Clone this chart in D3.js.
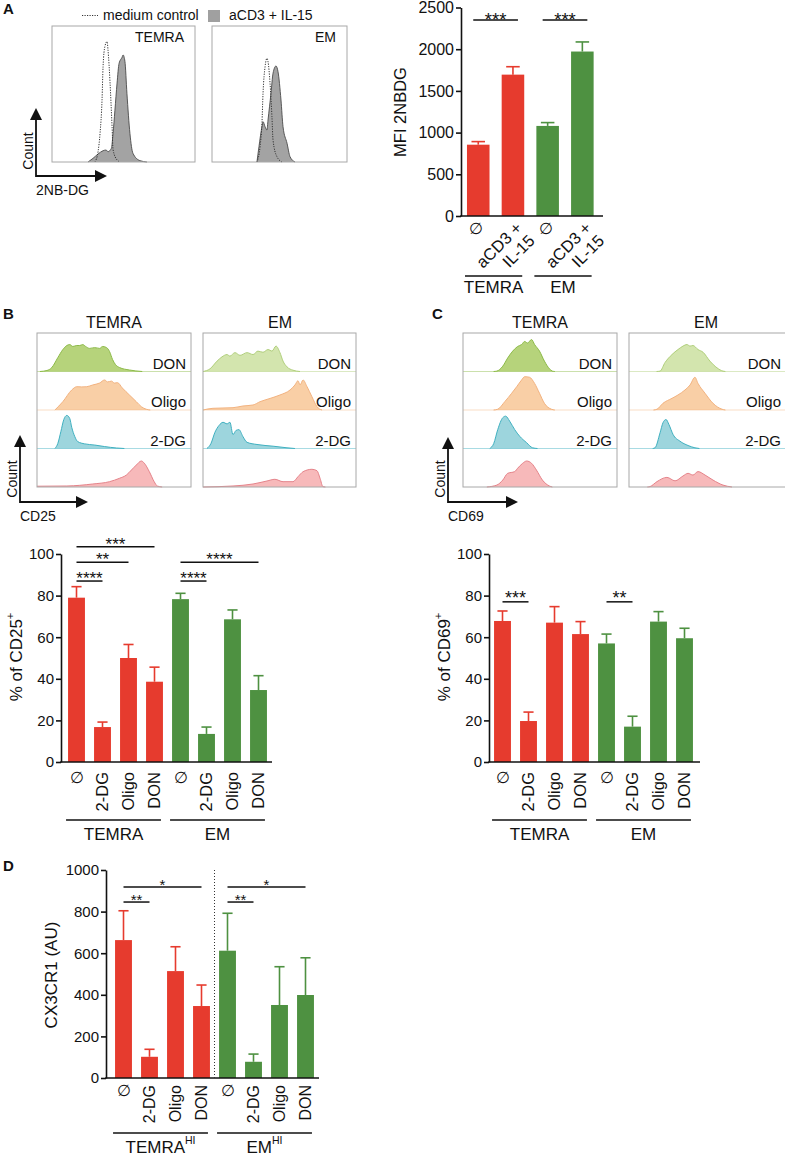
<!DOCTYPE html>
<html><head><meta charset="utf-8">
<script src="https://cdn.jsdelivr.net/npm/d3@7"></script>
<style>body{margin:0;background:#fff} svg{display:block}</style>
</head><body>
<svg id="fig" width="785" height="1158"></svg>
<script>
// ================= DATA =================
// Panel A – histograms (channel 0-100, relative count 0-100)
const aTemraCtrl = [[30,0],[32.2,7.6],[33.6,21],[35,46],[35.7,70],[37,85],[38.5,88.5],[39.2,82],[40.6,58],[42,26],[42.7,9],[45.5,1.5],[47.6,0]];
const aTemraStim = [[25.2,0],[28.7,2.7],[32.2,5.9],[35.7,8.3],[37.8,8.8],[39.2,7.6],[41.5,10],[42.7,21],[44,38],[45.5,58],[46.9,72.5],[49,77],[49.7,78.7],[51,74],[52.4,50.5],[54.5,21],[56.6,6.4],[61.5,1],[66.4,0]];
const aEmCtrl = [[33.3,0],[35.6,11.3],[37,28.4],[37.8,50.5],[39.3,70],[40.7,76.2],[41.5,73.8],[43,57.9],[44.4,33.3],[45.2,16.2],[48.1,3.9],[51.9,0]];
const aEmStim = [[33.3,0],[34.8,11.3],[37,26],[37.8,29.6],[39.3,26],[40.7,23.5],[41.5,30.9],[43.7,50.5],[45.2,65.2],[47.4,70.6],[48.9,66.4],[51.1,45.6],[52.6,26],[55.6,13.7],[57.8,3.9],[61.5,0]];
const aLegend = ["medium control", "aCD3 + IL-15"];

// Panel A – bars
const aLabels = ["∅", "aCD3 +|IL-15", "∅", "aCD3 +|IL-15"];
const aGroupOf = [0, 0, 1, 1];
const aMean = [855, 1695, 1080, 1972];
const aSem = [37, 95, 40, 115];
const aTicks = [0, 500, 1000, 1500, 2000, 2500];
const aSig = [{a:0, b:1, at:2350, label:"***"}, {a:2, b:3, at:2350, label:"***"}];

// Panels B/C – histogram rows
const rowNames = ["DON", "Oligo", "2-DG", ""];
const bTemraDON = [[1.9,0],[6.5,2.6],[9.7,10.4],[13.6,36],[16.9,57],[19.5,67.5],[21.4,70],[23.4,65],[26,67.5],[27.9,67.5],[29.9,70],[31.8,65],[34.4,60],[37.7,62],[40.9,60],[42.9,65],[45.5,62],[47.4,52],[49.4,31],[51.3,18],[53.9,10.4],[60.4,3.9],[68.8,0]];
const bTemraOligo = [[11.7,0],[16.9,21.6],[22.7,52],[26,60.5],[29.2,60],[32.5,60.5],[36.4,65],[40.9,70],[44.2,78],[46.1,73],[48.7,75],[50.6,70],[52.6,71],[55.8,57],[60.4,39],[64.9,21.6],[68.2,8.6],[71.4,2],[74,0]];
const bTemra2DG = [[11.7,0],[13.6,13],[15.6,44],[17.5,75],[19.5,86],[21.4,78],[22.7,55],[24.7,31],[26.6,18],[31.2,12],[37.7,9],[44.2,5],[51.9,1.3],[57.1,0]];
const bTemraCtrl = [[0,2],[19.5,2.6],[36.4,7.8],[47.4,13.8],[53.9,22.6],[58.4,31],[61.7,44],[64.9,57],[68.2,67.5],[70.1,62],[73.4,40],[76.6,13.8],[78.6,2.6],[81.8,0]];
const bEmDON = [[0,0],[4.6,7],[9.2,27],[12.4,38],[15.7,44],[17.6,40],[20.9,49],[24.2,42],[28.8,49],[32.7,44],[35.9,53],[39.2,50],[42.5,57],[45.1,53],[47.7,66],[50.3,49],[52.3,27],[54.9,12],[58.8,3.4],[63.4,0]];
const bEmOligo = [[0,0],[6.5,4.4],[19.6,6],[26.1,10.4],[32.7,13],[37.3,21.6],[43.8,30],[50.3,39],[56.9,52],[60.1,65],[62.1,76],[63.4,65],[65.4,78],[68,60.5],[71.2,34.5],[74.5,8.6],[77.8,0]];
const bEm2DG = [[2.6,0],[5.2,13],[7.8,42],[10.5,60],[13.1,68],[15.7,64],[17.6,68],[19.6,36],[21.6,47],[23.5,49],[26.1,31],[28.8,16],[35.3,10.4],[45.8,6],[54.9,1.8],[60.1,0]];
const bEmCtrl = [[0,0],[19.6,2.6],[32.7,7.8],[41.8,15.6],[47,20],[52.3,13.8],[58.8,13.8],[62.1,26.8],[65.4,39.7],[71.2,46],[74.5,42.3],[76.5,22.6],[78.4,0.8],[80,0]];
const cTemraDON = [[20,0],[22.1,1],[26,13.8],[29.2,35],[32.5,53],[35.7,65],[38.3,70],[40.3,78],[42.2,74],[44.8,83],[46.8,70],[50,53],[53.2,27],[56.5,7],[58.4,1],[60,0]];
const cTemraOligo = [[20,0],[22.7,2],[27.3,21.6],[31.8,43.4],[35.1,60.5],[38.3,78],[40.3,86.5],[43.5,85],[46.8,69],[50,43.4],[53.2,17.4],[57.8,2],[60,0]];
const cTemra2DG = [[17.5,0],[20.1,13],[22.7,49],[26,80],[27.9,84],[30.5,71],[33.8,49],[37,32],[41.6,15],[45.5,1.8],[48.7,0]];
const cTemraCtrl = [[15.6,0],[22.1,5],[26,18],[29.2,35.5],[33.8,40],[35.7,48.6],[39,61.6],[41.6,67.5],[44.8,61.6],[48,44],[51.9,18],[56.5,2.6],[58.4,0]];
const cEmDON = [[18,0],[20.3,1],[23.5,23],[28.1,44],[32,57],[35.3,66],[37.9,70],[39.9,66],[41.8,67.5],[45.1,57],[48.4,50],[52.9,27],[57.5,9.6],[61.4,1],[63,0]];
const cEmOligo = [[16,0],[18.3,2],[22.2,17.4],[28.1,30.3],[32,39],[36.6,52],[39.9,65],[43.1,85],[45.1,69],[49.7,43.4],[54.9,17.4],[60.8,2],[63,0]];
const cEm2DG = [[15.5,0],[17,1.8],[20.3,40.8],[22.2,66.8],[24.2,75.3],[26.1,62.3],[28.8,36.4],[33.3,19],[38.6,7.8],[43.1,1.8],[46,0]];
const cEmCtrl = [[12,0],[13.7,1],[18.3,14],[24.8,25],[30.1,16],[35.3,28.6],[38.6,35.5],[41.8,31],[45.1,40],[49.7,31],[54.9,18],[61.4,5],[67.3,0]];

// Panels B/C/D – bars
const treatments = ["∅", "2-DG", "Oligo", "DON"];
const subsets = ["TEMRA", "EM"];
const pctTicks = [0, 20, 40, 60, 80, 100];
const bTemraMean = [79, 16.8, 50, 38.6];
const bTemraSem = [5.3, 2.4, 6.5, 7];
const bEmMean = [78.3, 13.5, 68.6, 34.6];
const bEmSem = [2.8, 3.3, 4.5, 6.9];
const bSig = [{a:0,b:3,at:103.5,label:"***"},{a:0,b:2,at:96,label:"**"},{a:0,b:1,at:87,label:"****"},{a:4,b:7,at:96,label:"****"},{a:4,b:5,at:87,label:"****"}];
const cTemraMean = [67.8, 19.7, 67, 61.5];
const cTemraSem = [4.8, 4.3, 7.7, 6];
const cEmMean = [57, 17, 67.5, 59.5];
const cEmSem = [4.5, 5, 4.8, 4.8];
const cSig = [{a:0,b:1,at:77,label:"***"},{a:4,b:5,at:77,label:"**"}];
const dTicks = [0, 200, 400, 600, 800, 1000];
const dTemraMean = [663, 102, 514, 346];
const dTemraSem = [141, 36, 117, 101];
const dEmMean = [612, 78, 351, 399];
const dEmSem = [180, 37, 184, 179];
const dSig = [{a:0,b:3,at:918,label:"*"},{a:0,b:1,at:846,label:"**"},{a:4,b:7,at:918,label:"*"},{a:4,b:5,at:846,label:"**"}];

// ================= DRAWING =================
const F = "'Liberation Sans', Arial, Helvetica, sans-serif";
const RED = "#e63b2e", GREEN = "#4e9141", INK = "#111";
const svg = d3.select("#fig");

function label(x, y, s, o = {}) {
  const t = svg.append("text").attr("x", x).attr("y", y).text(s)
    .attr("font-family", F).attr("font-size", o.size || 15)
    .attr("text-anchor", o.anchor || "start").attr("fill", INK);
  if (o.bold) t.attr("font-weight", "bold");
  if (o.rotate) t.attr("transform", `rotate(${o.rotate},${x},${y})`);
  return t;
}

// Panel letters
label(3, 14, "A", {size: 15, bold: true});
label(3, 319, "B", {size: 15, bold: true});
label(432, 319, "C", {size: 15, bold: true});
label(3, 871, "D", {size: 15, bold: true});

// ---- Panel A histograms
svg.append("line").attr("x1", 82).attr("x2", 98).attr("y1", 15.5).attr("y2", 15.5)
  .attr("stroke", "#333").attr("stroke-width", 1).attr("stroke-dasharray", "1.2,1.3");
label(103, 20, aLegend[0], {size: 14});
svg.append("rect").attr("x", 208).attr("y", 10).attr("width", 12).attr("height", 12).attr("fill", "#a0a0a0");
label(229, 20, aLegend[1], {size: 14});

function overlayHist(x0, w, ctrl, stim, name) {
  const top = 26, base = 162;
  const xs = d3.scaleLinear().domain([0, 100]).range([x0, x0 + w]);
  const ys = d3.scaleLinear().domain([0, 100]).range([base, top]);
  const area = d3.area().x(d => xs(d[0])).y0(base).y1(d => ys(d[1])).curve(d3.curveMonotoneX);
  const line = d3.line().x(d => xs(d[0])).y(d => ys(d[1])).curve(d3.curveMonotoneX);
  svg.append("path").datum(stim).attr("d", area).attr("fill", "#a3a3a3");
  svg.append("path").datum(stim).attr("d", line).attr("fill", "none").attr("stroke", "#4a4a4a").attr("stroke-width", 0.9);
  svg.append("path").datum(ctrl).attr("d", line).attr("fill", "none").attr("stroke", "#333")
    .attr("stroke-width", 1).attr("stroke-dasharray", "1.2,1.3");
  svg.append("rect").attr("x", x0).attr("y", top).attr("width", w).attr("height", base - top)
    .attr("fill", "none").attr("stroke", "#a8a8a8").attr("stroke-width", 1);
  label(x0 + w - 11, 42, name, {size: 14, anchor: "end"});
}
overlayHist(52, 143, aTemraCtrl, aTemraStim, subsets[0]);
overlayHist(212, 135, aEmCtrl, aEmStim, subsets[1]);

function countArrow(x, yTop, yCorner, xRight, xName, countX, countY) {
  svg.append("path").attr("d", `M${x},${yTop + 10}V${yCorner}H${xRight - 10}`)
    .attr("fill", "none").attr("stroke", INK).attr("stroke-width", 1.8);
  svg.append("path").attr("d", `M${x},${yTop}L${x - 6},${yTop + 12}L${x + 6},${yTop + 12}Z`).attr("fill", INK);
  svg.append("path").attr("d", `M${xRight},${yCorner}L${xRight - 12},${yCorner - 6}L${xRight - 12},${yCorner + 6}Z`).attr("fill", INK);
  label(countX, countY, "Count", {size: 14, anchor: "middle", rotate: -90});
  label(x, yCorner + 19, xName, {size: 14});
}
countArrow(36, 108, 176, 107, "2NB-DG", 33, 151);
countArrow(20, 435, 502, 88, "CD25", 17, 479);
countArrow(448, 437, 502, 518, "CD69", 445, 479);

// ---- stacked histograms (B, C)
const rowFillT = ["#b6d37b", "#f9cfa6", "#9dd5dd", "#f7b9ba"];
const rowFillE = ["#d3e5ae", "#f9cfa6", "#9dd5dd", "#f7b9ba"];
const rowStrokeT = ["#8cba48", "#f2b27f", "#3fb0c0", "#e5838a"];
const rowStrokeE = ["#b0cf7b", "#f2b27f", "#3fb0c0", "#e5838a"];
function stackHist(x0, boxW, curves, fills, strokes, title) {
  const top = 333, rowH = 38.5;
  const xs = d3.scaleLinear().domain([0, 100]).range([x0, x0 + 153]);
  curves.forEach((c, r) => {
    const base = top + (r + 1) * rowH;
    const ys = d3.scaleLinear().domain([0, 100]).range([base, base - rowH]);
    const area = d3.area().x(d => xs(d[0])).y0(base).y1(d => ys(d[1])).curve(d3.curveMonotoneX);
    const line = d3.line().x(d => xs(d[0])).y(d => ys(d[1])).curve(d3.curveMonotoneX);
    svg.append("path").datum(c).attr("d", area).attr("fill", fills[r]);
    svg.append("path").datum(c).attr("d", line).attr("fill", "none").attr("stroke", strokes[r]).attr("stroke-width", 1);
    if (r < 3) svg.append("line").attr("x1", x0).attr("x2", x0 + boxW).attr("y1", base).attr("y2", base)
      .attr("stroke", strokes[r]).attr("stroke-opacity", 0.45).attr("stroke-width", 1);
    if (rowNames[r]) label(x0 + boxW - 5, base - 3, rowNames[r], {size: 15, anchor: "end"});
  });
  svg.append("rect").attr("x", x0).attr("y", top).attr("width", boxW).attr("height", rowH * 4)
    .attr("fill", "none").attr("stroke", "#a8a8a8").attr("stroke-width", 1);
  label(x0 + 77, 328, title, {size: 16, anchor: "middle"});
}
stackHist(37, 154, [bTemraDON, bTemraOligo, bTemra2DG, bTemraCtrl], rowFillT, rowStrokeT, subsets[0]);
stackHist(203, 153, [bEmDON, bEmOligo, bEm2DG, bEmCtrl], rowFillE, rowStrokeE, subsets[1]);
stackHist(463, 154, [cTemraDON, cTemraOligo, cTemra2DG, cTemraCtrl], rowFillT, rowStrokeT, subsets[0]);
stackHist(629, 157, [cEmDON, cEmOligo, cEm2DG, cEmCtrl], rowFillE, rowStrokeE, subsets[1]);

// ---- bar charts
function barChart(cfg) {
  const g = svg.append("g");
  const keys = cfg.labels.map((d, i) => i);
  const x = d3.scaleBand().domain(keys).range(cfg.xRange).paddingInner(0.35).paddingOuter(0.175);
  const y = d3.scaleLinear().domain([0, cfg.ticks[cfg.ticks.length - 1]]).range(cfg.yRange);
  const bw = x.bandwidth();
  const col = i => cfg.groupOf[i] === 0 ? RED : GREEN;
  g.selectAll(".bar").data(cfg.mean).join("rect")
    .attr("x", (d, i) => x(i)).attr("y", d => y(d)).attr("width", bw)
    .attr("height", d => y(0) - y(d)).attr("fill", (d, i) => col(i));
  const eb = g.selectAll(".eb").data(cfg.mean).join("g").attr("stroke", (d, i) => col(i)).attr("stroke-width", 1.6);
  eb.append("line").attr("x1", (d, i) => x(i) + bw / 2).attr("x2", (d, i) => x(i) + bw / 2)
    .attr("y1", d => y(d)).attr("y2", (d, i) => y(d + cfg.sem[i]));
  eb.append("line").attr("x1", (d, i) => x(i) + bw * 0.2).attr("x2", (d, i) => x(i) + bw * 0.8)
    .attr("y1", (d, i) => y(d + cfg.sem[i])).attr("y2", (d, i) => y(d + cfg.sem[i]));

  const ya = g.append("g").attr("transform", `translate(${cfg.axisX},0)`)
    .call(d3.axisLeft(y).tickValues(cfg.ticks).tickFormat(d3.format("d")).tickSize(5).tickSizeOuter(0).tickPadding(2));
  ya.select(".domain").attr("stroke", INK).attr("stroke-width", 1.6);
  ya.selectAll(".tick line").attr("stroke", INK).attr("stroke-width", 1.6);
  ya.selectAll("text").attr("font-family", F).attr("font-size", cfg.tickSize || 15).attr("fill", INK);

  const xa = g.append("g").attr("transform", `translate(0,${y(0)})`)
    .call(d3.axisBottom(x).tickSize(0).tickFormat(i => cfg.labels[i]));
  xa.select(".domain").remove();
  g.append("line").attr("x1", cfg.axisX - 0.8).attr("x2", cfg.xAxisEnd).attr("y1", y(0)).attr("y2", y(0))
    .attr("stroke", INK).attr("stroke-width", 1.6);
  xa.selectAll("text").each(function (i) {
    const t = d3.select(this).attr("font-family", F).attr("fill", INK);
    const s = cfg.labels[i];
    if (s === "∅") {
      t.attr("x", cfg.nullDx || 0).attr("y", cfg.nullDy).attr("dy", 0).attr("text-anchor", "middle").attr("font-size", 16);
    } else if (cfg.diag) {
      const parts = s.split("|");
      t.text(null).attr("x", 0).attr("y", 0).attr("dy", 0).attr("text-anchor", "end")
        .attr("font-size", cfg.labelSize).attr("transform", `translate(${cfg.diag[0]},${cfg.diag[1]}) rotate(-45)`);
      parts.forEach((p, k) => t.append("tspan").attr("x", 0).attr("dy", k ? "1.1em" : 0).text(p));
    } else {
      t.attr("x", cfg.rotDx).attr("y", 0).attr("dy", "0.36em").attr("text-anchor", "end")
        .attr("font-size", cfg.labelSize).attr("transform", "rotate(-90)");
    }
  });

  // group brackets
  cfg.groups.forEach(gr => {
    const x1 = x(gr.first) - 2, x2 = x(gr.last) + bw - 2, ly = y(0) + cfg.groupLineDy;
    g.append("line").attr("x1", x1).attr("x2", x2).attr("y1", ly).attr("y2", ly).attr("stroke", INK).attr("stroke-width", 1.5);
    const t = g.append("text").attr("x", (x1 + x2) / 2).attr("y", ly + cfg.groupTextDy).attr("text-anchor", "middle")
      .attr("font-family", F).attr("font-size", 17).attr("fill", INK).text(gr.name);
    if (gr.sup) t.append("tspan").attr("font-size", 10.5).attr("dy", "-0.85em").text(gr.sup);
  });

  // significance
  cfg.sig.forEach(s => {
    const x1 = x(s.a) + bw / 2 - cfg.sigExt, x2 = x(s.b) + bw / 2 + cfg.sigExt, ly = y(s.at);
    g.append("line").attr("x1", x1).attr("x2", x2).attr("y1", ly).attr("y2", ly).attr("stroke", INK).attr("stroke-width", 1.5);
    g.append("text").attr("x", (x1 + x2) / 2).attr("y", ly + cfg.starDy).attr("text-anchor", "middle")
      .attr("font-family", F).attr("font-size", cfg.starSize).attr("fill", INK).text(s.label);
  });

  // divider
  if (cfg.divider) {
    const step = x.step(), dx = x(cfg.divider) - (step - bw) / 2;
    g.append("line").attr("x1", dx).attr("x2", dx).attr("y1", y(0)).attr("y2", y.range()[1])
      .attr("stroke", "#333").attr("stroke-width", 1).attr("stroke-dasharray", "1,2");
  }

  // y title
  const t = g.append("text").attr("transform", `rotate(-90,${cfg.title.x},${cfg.title.y})`)
    .attr("x", cfg.title.x).attr("y", cfg.title.y).attr("text-anchor", "middle")
    .attr("font-family", F).attr("font-size", cfg.title.size).attr("fill", INK).text(cfg.title.text);
  if (cfg.title.sup) t.append("tspan").attr("font-size", cfg.title.size * 0.65).attr("dy", "-0.75em").text(cfg.title.sup);
}

barChart({
  labels: aLabels, groupOf: aGroupOf, mean: aMean, sem: aSem, ticks: aTicks, tickSize: 16,
  xRange: [460.9, 599.7], yRange: [216, 7.5], axisX: 461, xAxisEnd: 603,
  diag: [10, 13], labelSize: 16.5, nullDy: 18, nullDx: -2,
  groups: [{name: subsets[0], first: 0, last: 1}, {name: subsets[1], first: 2, last: 3}],
  groupLineDy: 60, groupTextDy: 17,
  sig: aSig, sigExt: 5, starSize: 18.5, starDy: 5.5,
  title: {text: "MFI 2NBDG", x: 406, y: 112, size: 16.5}
});

barChart({
  labels: treatments.concat(treatments), groupOf: [0,0,0,0,1,1,1,1],
  mean: bTemraMean.concat(bEmMean), sem: bTemraSem.concat(bEmSem), ticks: pctTicks,
  xRange: [63.5, 271.5], yRange: [762, 554], axisX: 61, xAxisEnd: 272,
  rotDx: -10, labelSize: 16.5, nullDy: 21,
  groups: [{name: subsets[0], first: 0, last: 3}, {name: subsets[1], first: 4, last: 7}],
  groupLineDy: 58, groupTextDy: 20,
  sig: bSig, sigExt: 0, starSize: 17, starDy: 3,
  title: {text: "% of CD25", sup: "+", x: 22, y: 657, size: 17}
});

barChart({
  labels: treatments.concat(treatments), groupOf: [0,0,0,0,1,1,1,1],
  mean: cTemraMean.concat(cEmMean), sem: cTemraSem.concat(cEmSem), ticks: pctTicks,
  xRange: [489.5, 697.5], yRange: [762, 554], axisX: 489, xAxisEnd: 700,
  rotDx: -10, labelSize: 16.5, nullDy: 21,
  groups: [{name: subsets[0], first: 0, last: 3}, {name: subsets[1], first: 4, last: 7}],
  groupLineDy: 58, groupTextDy: 20,
  sig: cSig, sigExt: 0, starSize: 18, starDy: 2.5,
  title: {text: "% of CD69", sup: "+", x: 450, y: 657, size: 17}
});

barChart({
  labels: treatments.concat(treatments), groupOf: [0,0,0,0,1,1,1,1],
  mean: dTemraMean.concat(dEmMean), sem: dTemraSem.concat(dEmSem), ticks: dTicks,
  xRange: [110.5, 318.5], yRange: [1078, 870], axisX: 106, xAxisEnd: 319,
  rotDx: -7, labelSize: 16, nullDy: 18, divider: 4,
  groups: [{name: subsets[0], sup: "HI", first: 0, last: 3}, {name: subsets[1], sup: "HI", first: 4, last: 7}],
  groupLineDy: 55, groupTextDy: 20,
  sig: dSig, sigExt: 0, starSize: 15, starDy: 3,
  title: {text: "CX3CR1 (AU)", x: 57, y: 975, size: 17}
});
</script>
</body></html>
